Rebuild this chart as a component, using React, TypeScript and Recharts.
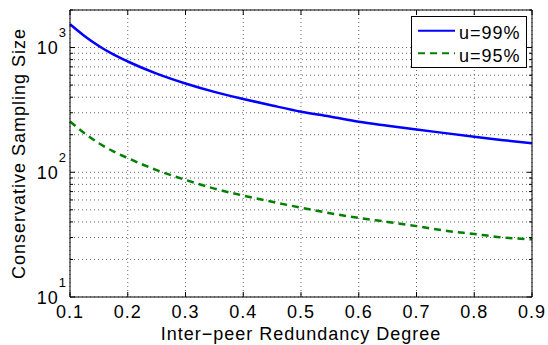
import { CartesianGrid, Label, Legend, Line, LineChart, XAxis, YAxis } from "recharts";

const degrees = [0.1, 0.125, 0.15, 0.175, 0.2, 0.25, 0.3, 0.35, 0.4, 0.45, 0.5, 0.55, 0.6, 0.65, 0.7, 0.75, 0.8, 0.85, 0.9];
const u99 = [1540, 1240, 1030, 880, 773, 618, 515, 441, 387, 343, 306, 280, 254, 236, 220, 206, 193, 181, 171];
const u95 = [255, 206, 171, 147, 130, 104, 87, 74, 65, 58, 52, 47, 43, 40, 37, 34, 32, 30, 29];

const xTicks = [0.1, 0.2, 0.3, 0.4, 0.5, 0.6, 0.7, 0.8, 0.9];
const yTicks = [10, 20, 30, 40, 50, 60, 70, 80, 90, 100, 200, 300, 400, 500, 600, 700, 800, 900, 1000, 2000];
const yMajor = [10, 100, 1000];

const series = [
  { key: "u99", name: "u=99%", color: "#0000ff", dash: undefined as string | undefined },
  { key: "u95", name: "u=95%", color: "#008000", dash: "7 5" },
];

const data = degrees.map((x, i) => ({ x, u99: u99[i], u95: u95[i] }));

const FONT = "'Liberation Sans', Arial, Helvetica, sans-serif";
const txt = { fontFamily: FONT, fontSize: 18, letterSpacing: 1, fill: "#000" };

// ticks point inward, MATLAB style
function BottomTick({ x, y, payload }: any) {
  return (
    <g>
      <line x1={x} x2={x} y1={y} y2={y - 5} stroke="#000" />
      <text x={x} y={y + 21} textAnchor="middle" style={txt}>{payload.value.toFixed(1)}</text>
    </g>
  );
}

function TopTick({ x, y }: any) {
  return <line x1={x} x2={x} y1={y} y2={y + 5} stroke="#000" />;
}

function LeftTick({ x, y, payload }: any) {
  const major = yMajor.includes(payload.value);
  return (
    <g>
      <line x1={x} x2={x + (major ? 5 : 3)} y1={y} y2={y} stroke="#000" />
      {major && (
        <text x={x - 3} y={y + 6.5} textAnchor="end" style={txt}>
          <tspan>10</tspan>
          <tspan dy={-17} fontSize={13}>{Math.round(Math.log10(payload.value))}</tspan>
        </text>
      )}
    </g>
  );
}

function RightTick({ x, y, payload }: any) {
  const major = yMajor.includes(payload.value);
  return <line x1={x} x2={x - (major ? 5 : 3)} y1={y} y2={y} stroke="#000" />;
}

function LegendBox() {
  return (
    <svg width={116} height={52} style={{ display: "block" }}>
      <rect x={0.5} y={0.5} width={115} height={51} fill="#fff" stroke="#000" />
      {series.map((s, i) => (
        <g key={s.key}>
          <line x1={7} x2={44} y1={14.7 + i * 22.6} y2={14.7 + i * 22.6} stroke={s.color} strokeWidth={2} strokeDasharray={s.dash} />
          <text x={48} y={23.3 + i * 22.4} style={txt}>{s.name}</text>
        </g>
      ))}
    </svg>
  );
}

export default function App() {
  return (
    <div style={{ position: "absolute", left: 0, top: 0, background: "#fff" }}>
      <LineChart width={548} height={345} data={data} margin={{ top: 0, right: 0, bottom: 0, left: 0 }}>
        <CartesianGrid xAxisId="b" yAxisId="l" stroke="#666" strokeDasharray="1 3" />
        <XAxis xAxisId="t" orientation="top" dataKey="x" type="number" domain={[0.1, 0.9]} ticks={xTicks}
          height={10} interval={0} tickSize={0} tickMargin={0} tickLine={false} tick={<TopTick />}
          axisLine={{ stroke: "#000" }} />
        <XAxis xAxisId="b" dataKey="x" type="number" domain={[0.1, 0.9]} ticks={xTicks}
          height={48} interval={0} tickSize={0} tickMargin={0} tickLine={false} tick={<BottomTick />}
          axisLine={{ stroke: "#000" }}>
          <Label content={({ viewBox }: any) => (
            <text x={viewBox.x + viewBox.width / 2} y={viewBox.y + 43} textAnchor="middle" style={txt}>
              Inter−peer Redundancy Degree
            </text>
          )} />
        </XAxis>
        <YAxis yAxisId="l" scale="log" domain={[10, 2000]} ticks={yTicks} allowDataOverflow
          width={70} interval={0} tickSize={0} tickMargin={0} tickLine={false} tick={<LeftTick />}
          axisLine={{ stroke: "#000" }}>
          <Label content={({ viewBox }: any) => {
            const cx = viewBox.x + 25;
            const cy = viewBox.y + viewBox.height / 2;
            return (
              <text x={cx} y={cy} textAnchor="middle" transform={`rotate(-90, ${cx}, ${cy})`} style={txt}>
                Conservative Sampling Size
              </text>
            );
          }} />
        </YAxis>
        <YAxis yAxisId="r" orientation="right" scale="log" domain={[10, 2000]} ticks={yTicks} allowDataOverflow
          width={16} interval={0} tickSize={0} tickMargin={0} tickLine={false} tick={<RightTick />}
          axisLine={{ stroke: "#000" }} />
        <Legend layout="vertical" align="center" verticalAlign="middle" content={<LegendBox />}
          wrapperStyle={{ left: 411, top: 16, width: 116, height: 52 }} />
        {series.map((s) => (
          <Line key={s.key} xAxisId="b" yAxisId="l" type="monotone" dataKey={s.key} name={s.name}
            stroke={s.color} strokeWidth={2.5} strokeDasharray={s.dash} dot={false} activeDot={false}
            isAnimationActive={false} />
        ))}
      </LineChart>
    </div>
  );
}
